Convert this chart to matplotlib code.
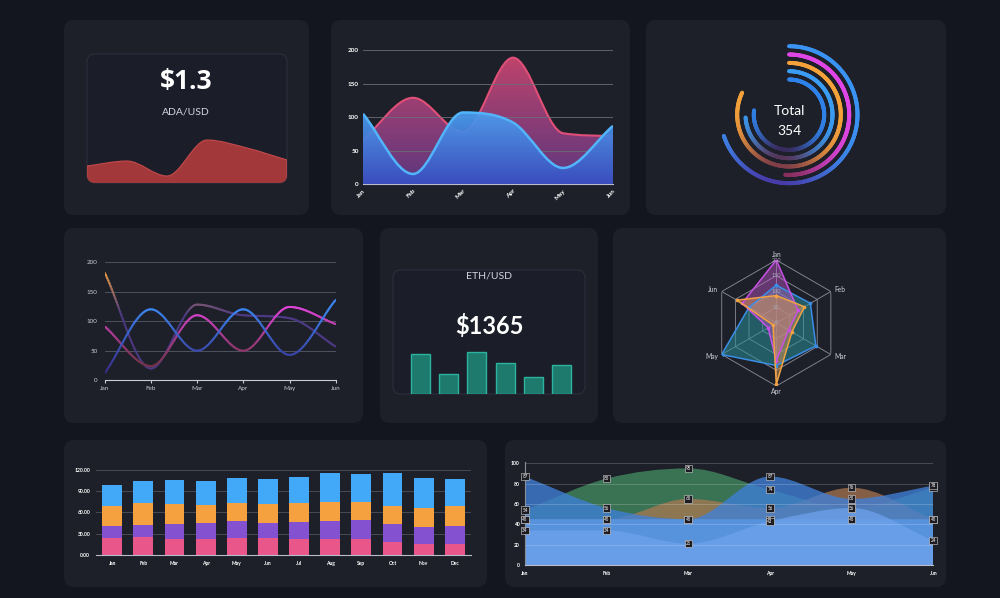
import numpy as np
import matplotlib
matplotlib.use("Agg")
import matplotlib.pyplot as plt
from matplotlib.patches import FancyBboxPatch, PathPatch
from matplotlib.path import Path
from matplotlib.collections import LineCollection
from matplotlib.colors import to_rgb

plt.rcParams['font.family'] = ['Lato', 'DejaVu Sans']

W, H = 1000, 598
BG = '#13151f'
CARD = '#1e2029'
TXT = '#d4d7e0'

months6 = ['Jan', 'Feb', 'Mar', 'Apr', 'May', 'Jun']
months12 = ['Jan', 'Feb', 'Mar', 'Apr', 'May', 'Jun',
            'Jul', 'Aug', 'Sep', 'Oct', 'Nov', 'Dec']

# ADA card
ada_label = 'ADA/USD'
ada_price = '$1.3'
ada_values = [18, 23, 8, 44, 36, 24]

# two-area card
area_pink = [66, 129, 78, 189, 76, 72]
area_blue = [105, 15, 107, 92, 24, 87]

# radial card (percent of a full turn), outer ring first
ring_values = [70, 51, 82, 74, 77]
ring_total = 354

# line card
line_orange = [182, 20, 128, 110, 105, 57]
line_blue = [12, 120, 50, 120, 43, 136]
line_pink = [91, 24, 110, 50, 124, 95]

# ETH card
eth_label = 'ETH/USD'
eth_price = '$1365'
eth_values = [40, 20, 42, 31, 17, 29]

# radar card
radar_pink = [200, 80, 45, 120, 30, 125]
radar_blue = [120, 125, 145, 135, 200, 100]
radar_orange = [87, 103, 57, 195, 12, 145]

# stacked bars card
stack_pink = [24.5, 25.4, 23, 23, 24.5, 23.5, 23, 23, 22.6, 18.8, 16, 16]
stack_purple = [16, 16.5, 20.2, 22.1, 23.5, 22.1, 23, 25, 26.8, 25, 23.5, 24.5]
stack_orange = [28.2, 31.5, 29.2, 25.9, 24.9, 26.8, 27.3, 27.3, 24.9, 25.9, 26.8, 28.7]
stack_blue = [30.1, 31.5, 33.4, 32.9, 35.3, 34.4, 36.7, 40, 40.5, 46.6, 42.8, 37.6]

# overlapping areas card
multi_a = [87, 56, 45, 87, 65, 78]
multi_b = [54, 85, 95, 74, 56, 76]
multi_c = [45, 45, 65, 56, 76, 45]
multi_d = [45, 45, 45, 45, 45, 45]
multi_e = [34, 34, 21, 43, 56, 24]


def px_axes(x0, y0, x1, y1, **kw):
    return fig.add_axes([x0 / W, 1 - y1 / H, (x1 - x0) / W, (y1 - y0) / H], **kw)


def clean(ax):
    ax.set_facecolor('none')
    for s in ax.spines.values():
        s.set_visible(False)


def smooth_path(x, y, base=None):
    # monotone cubic bezier through the data points
    x = np.asarray(x, float)
    y = np.asarray(y, float)
    h = np.diff(x)
    d = np.diff(y) / h
    m = np.empty_like(y)
    m[0], m[-1] = d[0], d[-1]
    m[1:-1] = (d[:-1] + d[1:]) / 2
    m[1:-1][d[:-1] * d[1:] <= 0] = 0
    for k in range(len(d)):
        if d[k] == 0:
            m[k] = m[k + 1] = 0
        else:
            a, b = m[k] / d[k], m[k + 1] / d[k]
            s = a * a + b * b
            if s > 9:
                t = 3 / np.sqrt(s)
                m[k], m[k + 1] = t * a * d[k], t * b * d[k]
    verts = [(x[0], y[0])]
    codes = [Path.MOVETO]
    for k in range(len(d)):
        verts += [(x[k] + h[k] / 3, y[k] + m[k] * h[k] / 3),
                  (x[k + 1] - h[k] / 3, y[k + 1] - m[k + 1] * h[k] / 3),
                  (x[k + 1], y[k + 1])]
        codes += [Path.CURVE4] * 3
    if base is not None:
        verts += [(x[-1], base), (x[0], base), (x[0], y[0])]
        codes += [Path.LINETO, Path.LINETO, Path.CLOSEPOLY]
    return Path(verts, codes)


def curve_points(path):
    pts = [seg(np.linspace(0, 1, 40)) for seg, code in path.iter_bezier()
           if code == Path.CURVE4]
    return np.vstack(pts)


def gradient_fill(ax, path, top, bottom, y0, y1, a_top=1.0, a_bot=1.0, zorder=1):
    clip = PathPatch(path, fc='none', ec='none')
    ax.add_patch(clip)
    t = np.linspace(0, 1, 200)[:, None]
    rgb = np.array(to_rgb(top)) * (1 - t) + np.array(to_rgb(bottom)) * t
    alpha = a_top * (1 - t) + a_bot * t
    img = np.hstack([rgb, alpha])[:, None, :]
    xs = path.vertices[:, 0]
    im = ax.imshow(img, extent=(xs.min(), xs.max(), y0, y1), aspect='auto',
                   origin='upper', zorder=zorder, interpolation='bilinear')
    im.set_clip_path(clip)


def gradient_line(ax, x, y, c_low, c_high, lo, hi, lw, alpha=1.0):
    pts = curve_points(smooth_path(x, y))
    segs = np.stack([pts[:-1], pts[1:]], axis=1)
    mid = (pts[:-1, 1] + pts[1:, 1]) / 2
    t = np.clip((mid - lo) / (hi - lo), 0, 1)[:, None]
    cols = np.array(to_rgb(c_low)) * (1 - t) + np.array(to_rgb(c_high)) * t
    cols = np.hstack([cols, np.full((len(t), 1), alpha)])
    ax.add_collection(LineCollection(segs, colors=cols, linewidths=lw, capstyle='round'))


fig = plt.figure(figsize=(10, 5.98), dpi=100)
fig.patch.set_facecolor(BG)
bg = fig.add_axes([0, 0, 1, 1])
bg.set_xlim(0, W)
bg.set_ylim(H, 0)
bg.axis('off')

cards = [(64, 20, 309, 215), (331, 20, 630, 215), (646, 20, 946, 215),
         (64, 228, 363, 423), (380, 228, 598, 423), (613, 228, 946, 423),
         (64, 440, 487, 587), (505, 440, 946, 587)]
for x0, y0, x1, y1 in cards:
    bg.add_patch(FancyBboxPatch((x0, y0), x1 - x0, y1 - y0,
                                boxstyle='round,pad=0,rounding_size=10',
                                fc=CARD, ec='none'))

# ---------------- ADA card ----------------
ada_box = FancyBboxPatch((87, 54), 200, 129, boxstyle='round,pad=0,rounding_size=8',
                         fc='#1b1d28', ec='#2c2f3c', lw=0.8)
bg.add_patch(ada_box)
bg.text(186, 81, ada_price, ha='center', va='center', fontsize=19,
        fontweight='bold', color='white', family=['Open Sans', 'DejaVu Sans'])
bg.text(186, 112, ada_label, ha='center', va='center', fontsize=7.5, color=TXT)

ax1 = px_axes(87, 128, 287, 184)
clean(ax1)
ax1.set_xticks([])
ax1.set_yticks([])
x6 = np.arange(6)
fill1 = PathPatch(smooth_path(x6, ada_values, base=0), fc='#a3383b', ec='#c44a4b', lw=0.8)
ax1.add_patch(fill1)
fill1.set_clip_path(ada_box)
ax1.set_xlim(0, 5)
ax1.set_ylim(0, 56)

# ---------------- two-area card ----------------
ax2 = px_axes(363, 49, 613, 184)
clean(ax2)
pink_path = smooth_path(x6, area_pink, base=0)
blue_path = smooth_path(x6, area_blue, base=0)
gradient_fill(ax2, pink_path, '#c9466f', '#6a3c8e', 0, max(area_pink), 0.95, 0.85, zorder=1)
ax2.add_patch(PathPatch(smooth_path(x6, area_pink), fc='none', ec='#e04f78', lw=1.5, zorder=2))
for gy in [50, 100, 150, 200]:
    ax2.axhline(gy, color='#6a6d78', lw=0.6, zorder=2.5)
gradient_fill(ax2, blue_path, '#4b9ff0', '#3a4ec0', 0, max(area_blue), 0.93, 0.97, zorder=3)
ax2.add_patch(PathPatch(smooth_path(x6, area_blue), fc='none', ec='#52b4fa', lw=1.8, zorder=4))
ax2.set_xlim(0, 5)
ax2.set_ylim(0, 202)
ax2.spines['bottom'].set_visible(True)
ax2.spines['bottom'].set_color('#b8bccb')
ax2.set_yticks([0, 50, 100, 150, 200])
ax2.set_xticks(x6)
ax2.set_xticklabels(months6, rotation=45, ha='right', rotation_mode='anchor')
ax2.tick_params(length=0, labelsize=4.6, colors='white', pad=3)
for lab in ax2.get_xticklabels() + ax2.get_yticklabels():
    lab.set_fontweight('bold')

# ---------------- radial card ----------------
ax3 = px_axes(709, 34.7, 869, 194.7, projection='polar')
ax3.set_theta_zero_location('N')
ax3.set_theta_direction(-1)
ax3.set_axis_off()
ring_radius = [68.5, 60.2, 51.8, 43.5, 35.2]
ring_base = ['#3a92f2', '#e046e6', '#f5a23a', '#3a9cf2', '#2f82ea']
ring_tint = ['#4a2c9c', '#742a3e', '#6a2c4a', '#5a2440', '#3a1c44']
for val, rr, cb, ct in zip(ring_values, ring_radius, ring_base, ring_tint):
    deg = np.linspace(0, val * 3.6, 240)
    th = np.deg2rad(deg)
    pts = np.column_stack([th, np.full_like(th, rr)])
    segs = np.stack([pts[:-1], pts[1:]], axis=1)
    mdeg = (deg[:-1] + deg[1:]) / 2
    w = (0.85 * np.exp(-((mdeg - 192) / 48) ** 2))[:, None]
    cols = np.array(to_rgb(cb)) * (1 - w) + np.array(to_rgb(ct)) * w
    ax3.add_collection(LineCollection(segs, colors=cols, linewidths=2.9, capstyle='round'))
ax3.set_ylim(0, 80)
bg.text(789, 111, 'Total', ha='center', va='center', fontsize=10, color='white')
bg.text(789, 131, str(ring_total), ha='center', va='center', fontsize=10, color='white')

# ---------------- line card ----------------
ax4 = px_axes(104.7, 261, 335.7, 380.3)
clean(ax4)
for gy in [50, 100, 150, 200]:
    ax4.axhline(gy, color='#565a66', lw=0.6, zorder=0)
gradient_line(ax4, x6, line_orange, '#4e3a86', '#f2a244', 110, 182, 1.5, 0.85)
gradient_line(ax4, x6, line_pink, '#74344a', '#e244dc', 30, 124, 1.5, 0.9)
gradient_line(ax4, x6, line_blue, '#3a2a88', '#3c86f2', 12, 120, 1.5, 0.9)
ax4.set_xlim(0, 5)
ax4.set_ylim(0, 201.7)
ax4.spines['bottom'].set_visible(True)
ax4.spines['bottom'].set_color('#c8ccd8')
ax4.set_yticks([0, 50, 100, 150, 200])
ax4.set_xticks(x6)
ax4.set_xticklabels(months6)
ax4.tick_params(axis='x', length=2, color='#c8ccd8', labelsize=4.5, labelcolor='#c8ccd8', pad=2)
ax4.tick_params(axis='y', length=0, labelsize=4.5, labelcolor='#c8ccd8', pad=5)

# ---------------- ETH card ----------------
bg.add_patch(FancyBboxPatch((393, 270), 192, 124, boxstyle='round,pad=0,rounding_size=8',
                            fc='#1b1d28', ec='#2c2f3c', lw=0.8))
bg.text(489, 276, eth_label, ha='center', va='center', fontsize=7.5, color=TXT)
bg.text(489, 326, eth_price, ha='center', va='center', fontsize=17,
        fontweight='bold', color='white')
ax5 = px_axes(406, 343.7, 576, 393.7)
clean(ax5)
ax5.bar(x6, eth_values, width=0.68, color='#1d7a6c', edgecolor='#2bb3a0', lw=1)
ax5.set_xlim(-0.5, 5.5)
ax5.set_ylim(0, 50)
ax5.set_xticks([])
ax5.set_yticks([])

# ---------------- radar card ----------------
ax6 = px_axes(713.3, 260, 839.3, 386, projection='polar')
ax6.set_theta_zero_location('N')
ax6.set_theta_direction(-1)
ax6.set_axis_off()
ang = np.deg2rad(np.arange(6) * 60)
angc = np.append(ang, ang[0])
for r in [50, 100, 150, 200]:
    ax6.plot(angc, [r] * 7, color='#8c8f9b', lw=0.6, zorder=1)
for a in ang:
    ax6.plot([a, a], [0, 200], color='#8c8f9b', lw=0.6, zorder=1)
for vals, lc, fc, fa in [(radar_blue, '#3a8ee6', '#2a8f98', 0.55),
                         (radar_pink, '#c850e6', '#c056c8', 0.45),
                         (radar_orange, '#f2a244', '#e8a050', 0.45)]:
    vc = np.append(vals, vals[0])
    ax6.fill(angc, vc, color=fc, alpha=fa, lw=0, zorder=2)
    ax6.plot(angc, vc, color=lc, lw=1.1, marker='o', ms=1.6, zorder=3)
for r in [0, 50, 100, 150, 200]:
    ax6.text(0, r, str(r), ha='center', va='center', fontsize=4, color='#a4a7b2', zorder=4)
lab_pos = [(207, 'center', 'bottom'), (214, 'left', 'center'), (214, 'left', 'center'),
           (207, 'center', 'top'), (214, 'right', 'center'), (214, 'right', 'center')]
for a, m, (r, ha, va) in zip(ang, months6, lab_pos):
    ax6.text(a, r, m, ha=ha, va=va, fontsize=4.8, color='#d0d3dc')
ax6.set_ylim(0, 200)

# ---------------- stacked bars card ----------------
ax7 = px_axes(95.7, 469, 470.7, 555)
clean(ax7)
x12 = np.arange(12)
for gy in [30, 60, 90, 120]:
    ax7.axhline(gy, color='#4e525e', lw=0.6, zorder=0)
bottom = np.zeros(12)
for vals, col in [(stack_pink, '#e8568a'), (stack_purple, '#8452d0'),
                  (stack_orange, '#f5a140'), (stack_blue, '#42a9f8')]:
    ax7.bar(x12, vals, bottom=bottom, width=0.64, color=col, zorder=2)
    bottom += np.array(vals)
ax7.set_xlim(-0.53, 11.51)
ax7.set_ylim(0, 121.4)
ax7.spines['bottom'].set_visible(True)
ax7.spines['bottom'].set_color('#b8bccb')
ax7.set_yticks([0, 30, 60, 90, 120])
ax7.set_yticklabels([f'{v:.2f}' for v in [0, 30, 60, 90, 120]])
ax7.set_xticks(x12)
ax7.set_xticklabels(months12)
ax7.tick_params(length=0, labelsize=3.6, colors='white', pad=4)
for lab in ax7.get_xticklabels() + ax7.get_yticklabels():
    lab.set_fontweight('bold')

# ---------------- overlapping areas card ----------------
ax8 = px_axes(525, 462, 933.3, 565)
clean(ax8)
series8 = [(multi_b, '#3d7a58', 0.92), (multi_c, '#b07a52', 0.7),
           (multi_a, '#3f80d8', 0.78), (multi_d, '#5a98e6', 0.8),
           (multi_e, '#6ea2ec', 0.75)]
for vals, col, al in series8:
    ax8.add_patch(PathPatch(smooth_path(x6, vals, base=0), fc=col, ec='none', alpha=al, zorder=1))
for gy in [20, 40, 60, 80, 100]:
    ax8.axhline(gy, color='white', alpha=0.22, lw=0.6, zorder=2)
for vals, col, al in series8:
    for i, v in enumerate(vals):
        ax8.text(i, v, str(v), ha='center', va='center', fontsize=3.3, color='white',
                 zorder=5, clip_on=False,
                 bbox=dict(boxstyle='square,pad=0.25', fc='#1c1c22', ec='#d8d8d8', lw=0.4))
ax8.set_xlim(0, 5)
ax8.set_ylim(0, 101.3)
ax8.spines['bottom'].set_visible(True)
ax8.spines['bottom'].set_color('#b8bccb')
ax8.spines['left'].set_visible(True)
ax8.spines['left'].set_color('#8a8e9a')
ax8.set_yticks([0, 20, 40, 60, 80, 100])
ax8.set_xticks(x6)
ax8.set_xticklabels(months6)
ax8.tick_params(length=0, labelsize=3.6, colors='white', pad=4)
for lab in ax8.get_xticklabels() + ax8.get_yticklabels():
    lab.set_fontweight('bold')

fig.savefig('out.png', dpi=100, facecolor=BG)
